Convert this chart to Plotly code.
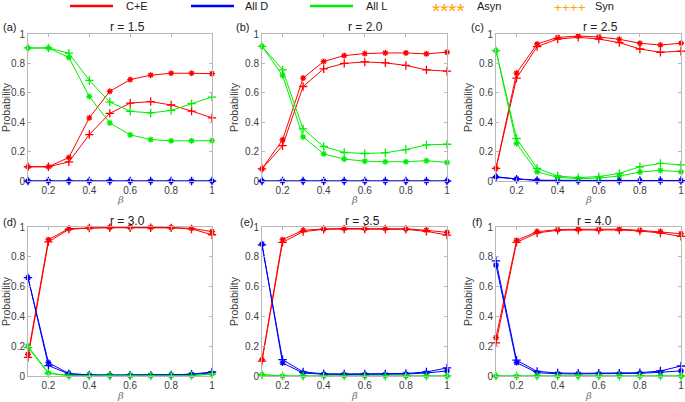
import plotly.graph_objects as go

# ---------------- data ----------------
beta = [0.1, 0.2, 0.3, 0.4, 0.5, 0.6, 0.7, 0.8, 0.9, 1.0]
x_tickvals = [0.2, 0.4, 0.6, 0.8, 1.0]
x_ticktext = ["0.2", "0.4", "0.6", "0.8", "1"]
y_tickvals = [0, 0.2, 0.4, 0.6, 0.8, 1.0]
y_ticktext = ["0", "0.2", "0.4", "0.6", "0.8", "1"]

panel_labels = ["(a)", "(b)", "(c)", "(d)", "(e)", "(f)"]
panel_titles = ["r = 1.5", "r = 2.0", "r = 2.5", "r = 3.0", "r = 3.5", "r = 4.0"]
legend_names = ["C+E", "All D", "All L", "Asyn", "Syn"]

# r = 1.5
ce_asyn_15 = [0.097, 0.097, 0.16, 0.43, 0.61, 0.69, 0.72, 0.733, 0.733, 0.73]
ce_syn_15 = [0.097, 0.097, 0.13, 0.316, 0.46, 0.53, 0.54, 0.517, 0.476, 0.43]
d_asyn_15 = [0, 0, 0, 0, 0, 0, 0, 0, 0, 0]
d_syn_15 = [0, 0, 0, 0, 0, 0, 0, 0, 0, 0]
l_asyn_15 = [0.905, 0.905, 0.84, 0.575, 0.395, 0.314, 0.282, 0.273, 0.273, 0.275]
l_syn_15 = [0.905, 0.905, 0.87, 0.684, 0.537, 0.474, 0.463, 0.48, 0.526, 0.571]

# r = 2.0
ce_asyn_20 = [0.083, 0.28, 0.70, 0.813, 0.853, 0.867, 0.871, 0.871, 0.865, 0.876]
ce_syn_20 = [0.083, 0.24, 0.643, 0.763, 0.80, 0.81, 0.804, 0.786, 0.756, 0.747]
d_asyn_20 = [0, 0, 0, 0, 0, 0, 0, 0, 0, 0]
d_syn_20 = [0, 0, 0, 0, 0, 0, 0, 0, 0, 0]
l_asyn_20 = [0.916, 0.718, 0.30, 0.185, 0.149, 0.135, 0.131, 0.131, 0.138, 0.126]
l_syn_20 = [0.916, 0.756, 0.354, 0.235, 0.194, 0.187, 0.192, 0.214, 0.246, 0.25]

# r = 2.5
ce_asyn_25 = [0.086, 0.734, 0.932, 0.977, 0.986, 0.98, 0.964, 0.937, 0.925, 0.937]
ce_syn_25 = [0.086, 0.70, 0.914, 0.966, 0.977, 0.966, 0.941, 0.898, 0.876, 0.883]
d_asyn_25 = [0.029, 0.014, 0.005, 0.004, 0.003, 0.003, 0.003, 0.003, 0.003, 0.003]
d_syn_25 = [0.025, 0.012, 0.004, 0.003, 0.003, 0.003, 0.003, 0.003, 0.003, 0.003]
l_asyn_25 = [0.887, 0.255, 0.063, 0.025, 0.016, 0.02, 0.034, 0.061, 0.072, 0.063]
l_syn_25 = [0.887, 0.289, 0.086, 0.034, 0.023, 0.03, 0.052, 0.097, 0.12, 0.11]

# r = 3.0
ce_asyn_30 = [0.145, 0.915, 0.989, 0.995, 0.997, 0.997, 0.997, 0.996, 0.991, 0.969]
ce_syn_30 = [0.125, 0.90, 0.984, 0.993, 0.995, 0.995, 0.995, 0.994, 0.987, 0.948]
d_asyn_30 = [0.66, 0.09, 0.016, 0.008, 0.006, 0.006, 0.006, 0.007, 0.011, 0.02]
d_syn_30 = [0.66, 0.07, 0.014, 0.007, 0.006, 0.006, 0.006, 0.007, 0.012, 0.027]
l_asyn_30 = [0.20, 0.02, 0.003, 0.002, 0.002, 0.002, 0.002, 0.002, 0.003, 0.015]
l_syn_30 = [0.19, 0.018, 0.003, 0.002, 0.002, 0.002, 0.002, 0.002, 0.003, 0.012]

# r = 3.5
ce_asyn_35 = [0.11, 0.915, 0.978, 0.987, 0.99, 0.99, 0.99, 0.988, 0.978, 0.964]
ce_syn_35 = [0.10, 0.897, 0.969, 0.984, 0.986, 0.986, 0.986, 0.984, 0.971, 0.946]
d_asyn_35 = [0.885, 0.088, 0.02, 0.012, 0.01, 0.01, 0.01, 0.013, 0.02, 0.034]
d_syn_35 = [0.88, 0.11, 0.027, 0.015, 0.014, 0.014, 0.014, 0.017, 0.027, 0.054]
l_asyn_35 = [0.01, 0, 0, 0, 0, 0, 0, 0, 0, 0]
l_syn_35 = [0.008, 0, 0, 0, 0, 0, 0, 0, 0, 0]

# r = 4.0
ce_asyn_40 = [0.258, 0.91, 0.969, 0.982, 0.985, 0.985, 0.985, 0.978, 0.969, 0.955]
ce_syn_40 = [0.222, 0.897, 0.96, 0.978, 0.98, 0.98, 0.98, 0.973, 0.96, 0.937]
d_asyn_40 = [0.744, 0.09, 0.022, 0.015, 0.014, 0.014, 0.014, 0.018, 0.025, 0.034]
d_syn_40 = [0.773, 0.106, 0.031, 0.02, 0.018, 0.018, 0.018, 0.022, 0.034, 0.067]
l_asyn_40 = [0, 0, 0, 0, 0, 0, 0, 0, 0, 0]
l_syn_40 = [0, 0, 0, 0, 0, 0, 0, 0, 0, 0]

panel_data = [
    (ce_asyn_15, ce_syn_15, d_asyn_15, d_syn_15, l_asyn_15, l_syn_15),
    (ce_asyn_20, ce_syn_20, d_asyn_20, d_syn_20, l_asyn_20, l_syn_20),
    (ce_asyn_25, ce_syn_25, d_asyn_25, d_syn_25, l_asyn_25, l_syn_25),
    (ce_asyn_30, ce_syn_30, d_asyn_30, d_syn_30, l_asyn_30, l_syn_30),
    (ce_asyn_35, ce_syn_35, d_asyn_35, d_syn_35, l_asyn_35, l_syn_35),
    (ce_asyn_40, ce_syn_40, d_asyn_40, d_syn_40, l_asyn_40, l_syn_40),
]

# ---------------- style / layout ----------------
W, H = 685, 402
RED, BLUE, GREEN, ORANGE = "#ff0000", "#0000ff", "#00ee00", "#ffa500"
AXC = "#b8b8b8"
TICKC = "#404040"
FONT = "Liberation Sans, Arial, sans-serif"

# pixel boxes of each axes: (left, right, top, bottom)
boxes = [
    (28, 212, 34, 181), (262, 447, 34, 181), (496, 681, 34, 181),
    (28, 212, 227, 376), (262, 447, 227, 376), (496, 681, 227, 376),
]
label_px = [(9, 27), (243, 27), (477, 27), (9, 222), (246, 222), (477, 222)]
title_px = [(128, 27), (366, 27), (600, 27), (128, 221), (362, 221), (594, 221)]
beta_y = [200, 200, 200, 395, 395, 395]


def px(x):
    return x / W


def py(y):
    return 1 - y / H


fig = go.Figure()
layout = dict(
    width=W, height=H, margin=dict(l=0, r=0, t=0, b=0),
    paper_bgcolor="white", plot_bgcolor="white", showlegend=False,
    font=dict(family=FONT, size=10, color=TICKC),
)
annotations = []
shapes = []

for i, (box, data) in enumerate(zip(boxes, panel_data)):
    n = "" if i == 0 else str(i + 1)
    xa, ya = "x" + n, "y" + n
    l, r, t, b = box
    layout["xaxis" + n] = dict(
        domain=[px(l), px(r)], anchor=ya, range=[0.1, 1.0],
        tickvals=x_tickvals, ticktext=x_ticktext,
        ticks="inside", ticklen=3, tickcolor=AXC, showline=True, mirror="ticks",
        linecolor=AXC, linewidth=1, showgrid=False, zeroline=False,
        tickfont=dict(size=10, color=TICKC, family=FONT), automargin=False,
        ticklabeloverflow="allow",
    )
    layout["yaxis" + n] = dict(
        domain=[py(b), py(t)], anchor=xa, range=[0, 1.0],
        tickvals=y_tickvals, ticktext=y_ticktext,
        ticks="inside", ticklen=3, tickcolor=AXC, showline=True, mirror="ticks",
        linecolor=AXC, linewidth=1, showgrid=False, zeroline=False,
        tickfont=dict(size=10, color=TICKC, family=FONT), automargin=False,
        ticklabeloverflow="allow",
        title=dict(text="Probability", font=dict(size=10.5, color=TICKC, family=FONT), standoff=4),
    )
    ce_a, ce_s, d_a, d_s, l_a, l_s = data
    series = [
        (ce_a, RED, "asterisk-open", 5), (d_a, BLUE, "asterisk-open", 5), (l_a, GREEN, "asterisk-open", 5),
        (ce_s, RED, "cross-thin-open", 6), (d_s, BLUE, "cross-thin-open", 6), (l_s, GREEN, "cross-thin-open", 6),
    ]
    for yv, col, sym, sz in series:
        fig.add_trace(go.Scatter(
            x=beta, y=yv, xaxis=xa, yaxis=ya, mode="lines+markers",
            line=dict(color=col, width=1), cliponaxis=False,
            marker=dict(symbol=sym, size=sz, color=col, line=dict(color=col, width=1.3)),
            hoverinfo="skip",
        ))
    lx, ly = label_px[i]
    annotations.append(dict(text=panel_labels[i], x=px(lx), y=py(ly), xref="paper", yref="paper",
                            showarrow=False, xanchor="center", yanchor="middle",
                            font=dict(size=11, color="#202020", family=FONT)))
    tx, ty = title_px[i]
    annotations.append(dict(text=panel_titles[i], x=px(tx), y=py(ty), xref="paper", yref="paper",
                            showarrow=False, xanchor="center", yanchor="middle",
                            font=dict(size=12, color="#202020", family=FONT)))
    annotations.append(dict(text="<i>β</i>", x=px((l + r) / 2), y=py(beta_y[i]), xref="paper", yref="paper",
                            showarrow=False, xanchor="center", yanchor="middle",
                            font=dict(size=10, color="#707070", family="DejaVu Serif")))

# legend (drawn as decoration at the top)
leg_y = 6
leg_lines = [(70, 113, RED, 124), (191, 234, BLUE, 243), (310, 353, GREEN, 364)]
for (x0, x1, col, tx), name in zip(leg_lines, legend_names[:3]):
    shapes.append(dict(type="line", xref="paper", yref="paper", x0=px(x0), x1=px(x1),
                       y0=py(leg_y), y1=py(leg_y), line=dict(color=col, width=2.5)))
    annotations.append(dict(text=name, x=px(tx), y=py(leg_y), xref="paper", yref="paper",
                            showarrow=False, xanchor="left", yanchor="middle",
                            font=dict(size=11, color="#202020", family=FONT)))
annotations.append(dict(text="****", x=px(430), y=py(10), xref="paper", yref="paper",
                        showarrow=False, xanchor="left", yanchor="middle", height=20,
                        font=dict(size=21, color=ORANGE, family=FONT)))
annotations.append(dict(text=legend_names[3], x=px(475), y=py(leg_y), xref="paper", yref="paper",
                        showarrow=False, xanchor="left", yanchor="middle",
                        font=dict(size=11, color="#202020", family=FONT)))
annotations.append(dict(text="++++", x=px(552), y=py(7.5), xref="paper", yref="paper",
                        showarrow=False, xanchor="left", yanchor="middle",
                        font=dict(size=13.5, color=ORANGE, family=FONT)))
annotations.append(dict(text=legend_names[4], x=px(593), y=py(leg_y), xref="paper", yref="paper",
                        showarrow=False, xanchor="left", yanchor="middle",
                        font=dict(size=11, color="#202020", family=FONT)))

layout["annotations"] = annotations
layout["shapes"] = shapes
fig.update_layout(**layout)
# remove the default 8px page margin so the 685x402 figure fills the window exactly
fig.write_html("out.html", config={"displayModeBar": False},
               post_script="document.body.style.margin='0px';document.body.style.overflow='hidden';")
